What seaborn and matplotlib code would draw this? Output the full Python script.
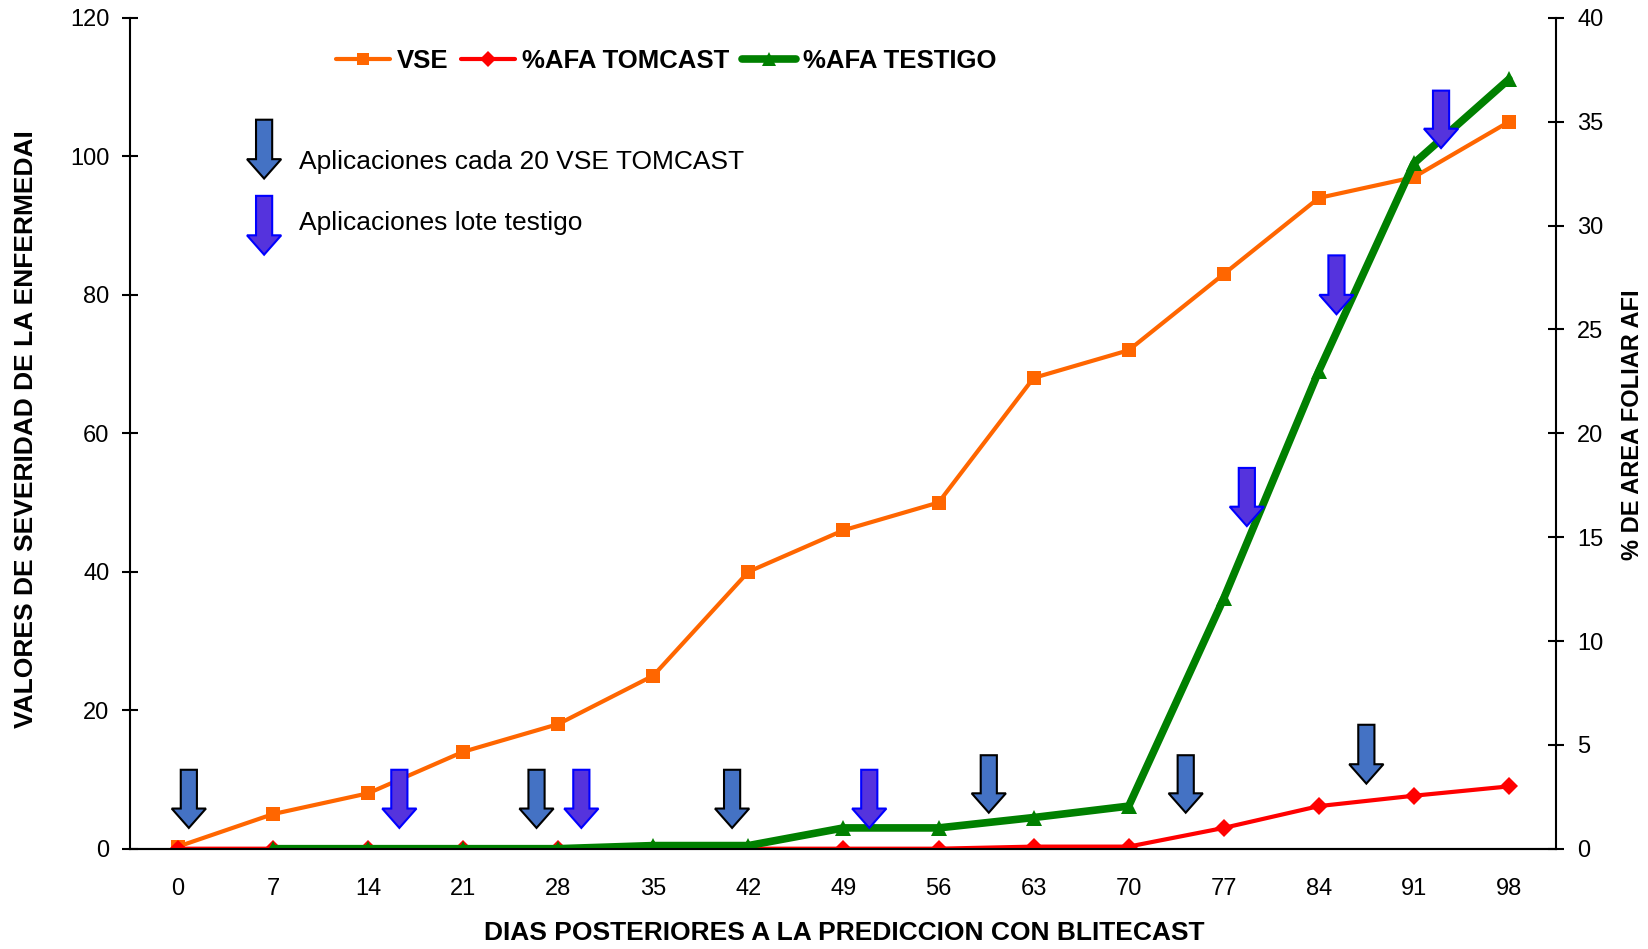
import numpy as np
import pandas as pd
import matplotlib
matplotlib.use("Agg")
import matplotlib.pyplot as plt
from matplotlib.patches import FancyArrow
from matplotlib.lines import Line2D
import seaborn as sns

# Days after the BLITECAST prediction
dias = [0, 7, 14, 21, 28, 35, 42, 49, 56, 63, 70, 77, 84, 91, 98]
# Disease severity values (left axis)
vse = [0.3, 5, 8, 14, 18, 25, 40, 46, 50, 68, 72, 83, 94, 97, 105]
# Percent of affected leaf area (right axis)
afa_tomcast = [0, 0, 0, 0, 0, 0, 0, 0, 0, 0.1, 0.1, 1.0, 2.05, 2.55, 3.0]
afa_testigo = [np.nan, 0, 0, 0, 0, 0.15, 0.15, 1.0, 1.0, 1.5, 2.05, 12.05, 23.0, 33.0, 37.05]

# Fungicide applications: day, arrow top and tip (left-axis units)
apl_tomcast_dia = [0.8, 26.4, 40.8, 59.7, 74.2, 87.5]
apl_tomcast_top = [11.4, 11.4, 11.4, 13.5, 13.5, 17.9]
apl_tomcast_tip = [3.0, 3.0, 3.0, 5.2, 5.2, 9.4]
apl_testigo_dia = [16.3, 29.7, 50.9, 78.7, 85.3, 93.0]
apl_testigo_top = [11.4, 11.4, 11.4, 55.0, 85.7, 109.5]
apl_testigo_tip = [3.0, 3.0, 3.0, 46.6, 77.2, 101.2]

sns.set_theme(style="white")
plt.rcParams["font.family"] = ["Liberation Sans", "DejaVu Sans"]
plt.rcParams.update({"text.color": "black", "axes.labelcolor": "black",
                     "xtick.color": "black", "ytick.color": "black"})

C_VSE = "#FF6600"
C_TOM = "#FF0000"
C_TES = "#008000"
C_ARR_TOM = "#4472C4"
C_ARR_TES = "#5533DD"

fig = plt.figure(figsize=(16.49, 9.49), dpi=100)
ax = fig.add_axes([0.0791, 0.1057, 0.8648, 0.8754])
ax2 = ax.twinx()

idx = np.arange(len(dias))
df = pd.DataFrame({"i": idx, "vse": vse, "tom": afa_tomcast, "tes": afa_testigo})

sns.lineplot(data=df, x="i", y="vse", ax=ax, color=C_VSE, lw=3, marker="s",
             markersize=10, markeredgewidth=0, label="VSE", legend=False)
sns.lineplot(data=df, x="i", y="tom", ax=ax2, color=C_TOM, lw=3, marker="D",
             markersize=9, markeredgewidth=0, label="%AFA TOMCAST", legend=False)
sns.lineplot(data=df.dropna(), x="i", y="tes", ax=ax2, color=C_TES, lw=5.5, marker="^",
             markersize=11, markeredgewidth=0, label="%AFA TESTIGO", legend=False)

ax.set_xlim(-0.5, len(dias) - 0.5)
ax.set_ylim(0, 120)
ax2.set_ylim(0, 40)
ax.set_yticks(np.arange(0, 121, 20))
ax2.set_yticks(np.arange(0, 41, 5))

ax.set_xticks(idx)
ax.set_xticklabels([str(d) for d in dias])
ax.set_xticks(np.arange(-0.5, len(dias), 1), minor=True)
ax.tick_params(axis="x", which="major", length=0, pad=21, labelsize=17)
ax.tick_params(axis="x", which="minor", direction="inout", length=12, width=1.5, color="black")
ax.tick_params(axis="y", direction="inout", length=12, width=1.5, color="black",
               labelsize=17, left=True, pad=9)
ax2.tick_params(axis="y", direction="inout", length=12, width=1.5, color="black",
                labelsize=17, right=True, pad=9)

for a in (ax, ax2):
    a.spines["top"].set_visible(False)
    for s in ("left", "right", "bottom"):
        a.spines[s].set_color("black")
        a.spines[s].set_linewidth(1.5)
    a.grid(False)
ax.spines["right"].set_visible(False)
ax2.spines["left"].set_visible(False)
ax.set_xlabel("")
ax.set_ylabel("")
ax2.set_ylabel("")

fig.text(0.512, 0.017, "DIAS POSTERIORES A LA PREDICCION CON BLITECAST", fontsize=19,
         fontweight="bold", ha="center", va="center")
fig.text(0.0158, 0.548, "VALORES DE SEVERIDAD DE LA ENFERMEDAI", fontsize=19,
         fontweight="bold", ha="center", va="center", rotation=90)
fig.text(0.990, 0.552, "% DE AREA FOLIAR AFI", fontsize=17,
         fontweight="bold", ha="center", va="center", rotation=90)

# Application arrows, positioned in left-axis units
def arrow(x, top, tip, fc, ec):
    length = top - tip
    p = FancyArrow(x, top, 0, -length, width=0.17, head_width=0.36,
                   head_length=2.8, length_includes_head=True,
                   facecolor=fc, edgecolor=ec, linewidth=1.5,
                   transform=ax.transData, zorder=5, clip_on=False)
    ax2.add_patch(p)

for d, t, b in zip(apl_tomcast_dia, apl_tomcast_top, apl_tomcast_tip):
    arrow(d / 7, t, b, C_ARR_TOM, "black")
for d, t, b in zip(apl_testigo_dia, apl_testigo_top, apl_testigo_tip):
    arrow(d / 7, t, b, C_ARR_TES, "#0000FF")

arrow(0.906, 105.3, 96.8, C_ARR_TOM, "black")
arrow(0.906, 94.3, 85.8, C_ARR_TES, "#0000FF")
ax2.text(1.27, 99.2, "Aplicaciones cada 20 VSE TOMCAST", fontsize=19,
         va="center", ha="left", transform=ax.transData)
ax2.text(1.27, 90.4, "Aplicaciones lote testigo", fontsize=19,
         va="center", ha="left", transform=ax.transData)

handles = [
    Line2D([], [], color=C_VSE, lw=3, marker="s", markersize=9, markeredgewidth=0),
    Line2D([], [], color=C_TOM, lw=3, marker="D", markersize=8, markeredgewidth=0),
    Line2D([], [], color=C_TES, lw=5.5, marker="^", markersize=10, markeredgewidth=0),
]
fig.legend(handles, ["VSE", "%AFA TOMCAST", "%AFA TESTIGO"], loc="center",
           bbox_to_anchor=(0.404, 0.936), ncol=3, frameon=False,
           prop={"size": 18.5, "weight": "bold"}, handlelength=2.1,
           handletextpad=0.27, columnspacing=0.5)

fig.savefig("out.png", dpi=100)
